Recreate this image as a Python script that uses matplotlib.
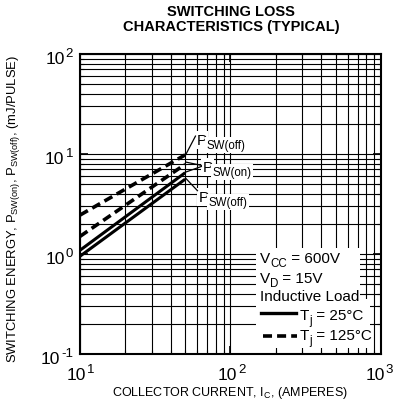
import matplotlib
matplotlib.use("Agg")
import matplotlib.pyplot as plt
from matplotlib.patches import Rectangle
from matplotlib.lines import Line2D
from matplotlib.ticker import LogLocator
from matplotlib.transforms import offset_copy, blended_transform_factory

plt.rcParams['font.family'] = ['Liberation Sans', 'DejaVu Sans']
plt.rcParams['mathtext.fontset'] = 'custom'
plt.rcParams['mathtext.rm'] = 'Liberation Sans'
plt.rcParams['mathtext.it'] = 'Liberation Sans'
plt.rcParams['mathtext.bf'] = 'Liberation Sans:bold'

# ---- data ----
current = [10, 50]                 # collector current, A
eoff_125 = [2.45, 9.8]             # Tj = 125C, Psw(off)
eon_125 = [1.50, 7.9]              # Tj = 125C, Psw(on)
eon_25 = [1.09, 6.5]               # Tj = 25C, Psw(on)
eoff_25 = [0.95, 5.6]              # Tj = 25C, Psw(off)

x_ticks = [10, 100, 1000]
x_exps = ["1", "2", "3"]
y_ticks = [0.1, 1, 10, 100]
y_exps = ["-1", "0", "1", "2"]

title = "SWITCHING LOSS\nCHARACTERISTICS (TYPICAL)"
xlabel = r"COLLECTOR CURRENT, I$_{\rm C}$, (AMPERES)"
ylabel = r"SWITCHING ENERGY, P$_{\rm SW(on)}$, P$_{\rm SW(off)}$, (mJ/PULSE)"

W, H = 395, 406
fig = plt.figure(figsize=(W / 100, H / 100), dpi=100)
ax = fig.add_axes([80/W, 1-355/H, 301/W, 300/H])
ax.set_xscale('log')
ax.set_yscale('log')
ax.set_xlim(10, 1000)
ax.set_ylim(0.1, 100)

ax.set_xticks(x_ticks)
ax.set_yticks(y_ticks)
ax.xaxis.set_minor_locator(LogLocator(base=10, subs=range(2, 10), numticks=20))
ax.yaxis.set_minor_locator(LogLocator(base=10, subs=range(2, 10), numticks=20))
ax.grid(True, which='both', color='black', linewidth=0.8)
ax.tick_params(which='both', direction='in', top=True, right=True, color='black',
               labelbottom=False, labelleft=False)
ax.tick_params(which='major', length=6, width=1.2)
ax.tick_params(which='minor', length=3, width=0.8)
for s in ax.spines.values():
    s.set_linewidth(1.5)

dash = (0, (2.5, 1.4))
ax.plot(current, eoff_125, color='black', lw=2.6, linestyle=dash, zorder=3)
ax.plot(current, eon_125, color='black', lw=2.6, linestyle=dash, zorder=3)
ax.plot(current, eon_25, color='black', lw=2.2, solid_capstyle='butt', zorder=3)
ax.plot(current, eoff_25, color='black', lw=2.2, solid_capstyle='butt', zorder=3)

renderer = fig.canvas.get_renderer()


def rich(x, y, segs, transform, zorder=6, bbox=None):
    """segs: list of (string, fontsize, drop_in_pixels)"""
    dx = 0.0
    for s, size, drop in segs:
        tr = offset_copy(transform, fig=fig, x=dx, y=-drop, units='dots')
        t = ax.text(x, y, s, transform=tr, fontsize=size, ha='left', va='baseline',
                    zorder=zorder, bbox=bbox)
        dx += t.get_window_extent(renderer).width


def power_label(x, y, tr, exp, align, dx0, dy0, max_right=None):
    t1 = ax.text(x, y, "10", fontsize=12.5, transform=tr, ha='left', va='baseline', clip_on=False)
    t2 = ax.text(x, y, exp, fontsize=9.5, transform=tr, ha='left', va='baseline', clip_on=False)
    w1 = t1.get_window_extent(renderer).width
    w2 = t2.get_window_extent(renderer).width
    gap = 1.0
    total = w1 + gap + w2
    start = -total if align == 'right' else -total / 2
    if max_right is not None:
        anchor_px = tr.transform((x, y))[0]
        right = anchor_px + dx0 + start + total
        if right > max_right:
            start -= right - max_right
    t1.set_transform(offset_copy(tr, fig=fig, x=dx0 + start, y=dy0, units='dots'))
    t2.set_transform(offset_copy(tr, fig=fig, x=dx0 + start + w1 + gap, y=dy0 + 7, units='dots'))


ytr = blended_transform_factory(ax.transAxes, ax.transData)
for v, e in zip(y_ticks, y_exps):
    power_label(0, v, ytr, e, 'right', -7, -9)
xtr = blended_transform_factory(ax.transData, ax.transAxes)
for v, e in zip(x_ticks, x_exps):
    power_label(v, 0, xtr, e, 'center', 1, -25, max_right=W - 2)

MAIN = 11
SUB = 8.3
DROP = 4
bb = dict(facecolor='white', edgecolor='none', pad=1.2)
rich(59.4, 12.6, [("P", MAIN, 0), ("SW(off)", SUB, DROP)], ax.transData, bbox=bb)
rich(65.1, 6.76, [("P", MAIN, 0), ("SW(on)", SUB, DROP)], ax.transData, bbox=bb)
rich(61.2, 3.39, [("P", MAIN, 0), ("SW(off)", SUB, DROP)], ax.transData, bbox=bb)
kw = dict(color='black', lw=0.9, zorder=6)
ax.plot([58.5, 50.5], [15.1, 9.9], **kw)
ax.plot([64, 50.5], [7.7, 8.3], **kw)
ax.plot([64, 50.5], [7.5, 6.6], **kw)
ax.plot([60.3, 50.5], [4.3, 5.7], **kw)

# legend box
ax.add_patch(Rectangle((0.585, 0.183), 0.345, 0.172, transform=ax.transAxes,
                       facecolor='white', edgecolor='none', zorder=4))
ax.add_patch(Rectangle((0.585, 0.02), 0.38, 0.165, transform=ax.transAxes,
                       facecolor='white', edgecolor='none', zorder=4))
rich(0.598, 0.307, [("V", MAIN, 0), ("CC", SUB, DROP), (" = 600V", MAIN, 0)], ax.transAxes)
rich(0.598, 0.240, [("V", MAIN, 0), ("D", SUB, DROP), (" = 15V", MAIN, 0)], ax.transAxes)
rich(0.598, 0.180, [("Inductive Load", MAIN, 0)], ax.transAxes)
rich(0.731, 0.117, [("T", MAIN, 0), ("j", SUB, DROP), (" = 25°C", MAIN, 0)], ax.transAxes)
rich(0.731, 0.050, [("T", MAIN, 0), ("j", SUB, DROP), (" = 125°C", MAIN, 0)], ax.transAxes)
ax.add_line(Line2D([0.601, 0.718], [0.137, 0.137], transform=ax.transAxes, color='black', lw=2.4, zorder=6))
ax.add_line(Line2D([0.608, 0.721], [0.060, 0.060], transform=ax.transAxes, color='black', lw=2.6,
                   linestyle=dash, zorder=6))

fig.text(0.585, 0.952, title, ha='center', va='center', fontsize=10.5, fontweight='bold', linespacing=1.12)
fig.text(0.583, 0.032, xlabel, ha='center', va='center', fontsize=9)
fig.text(0.035, 0.485, ylabel, ha='center', va='center', fontsize=9.4, rotation=90)

fig.savefig('out.png', dpi=100)
